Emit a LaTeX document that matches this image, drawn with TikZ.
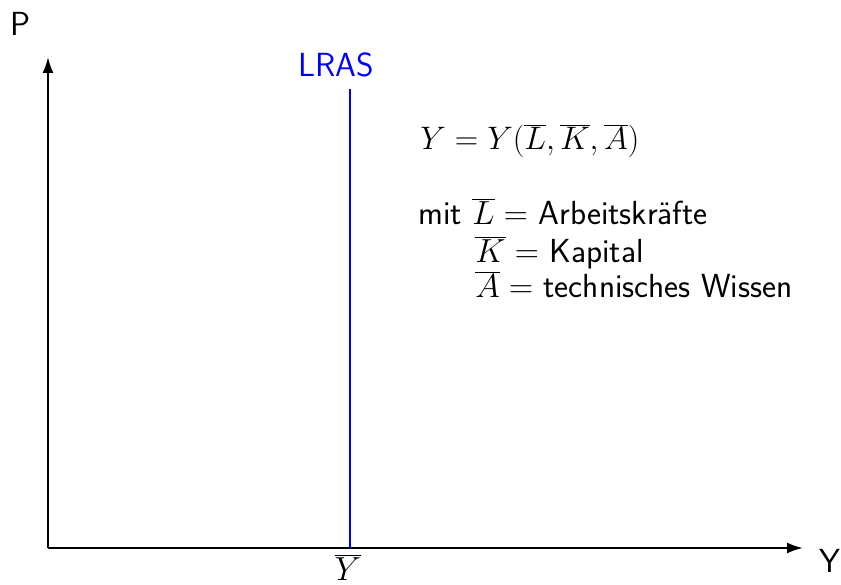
\RequirePackage{fix-cm}
\documentclass[tikz,border=0pt]{standalone}
\usepackage{tikz}
\usetikzlibrary{arrows.meta,positioning}
\definecolor{lrasblue}{HTML}{0000FF}

\begin{document}
\begin{tikzpicture}[
          axis/.style={-{Latex[length=3.2mm,width=2.2mm]},line width=1.2pt,draw=black},
          lras/.style={line width=1.2pt,draw=lrasblue},
          lbl/.style={font=\fontsize{19}{21.5}\selectfont\sffamily,inner sep=0pt}
        ]
        \useasboundingbox (0,0) rectangle (16.82,11.70);
        \coordinate (o) at (0.96,0.74);
        \coordinate (ptop) at (0.96,10.56);
        \coordinate (yend) at (16.06,0.74);
        \coordinate (lbot) at (7.00,0.74);
        \coordinate (ltop) at (7.00,9.92);
        \draw[axis] (o) -- (ptop);
        \draw[axis] (o) -- (yend);
        \draw[lras] (lbot) -- (ltop);
        \node[lbl] (p) at (0.42,11.22) {P};
        \node[lbl] (y) at (16.60,0.48) {Y};
        \node[lbl,text=lrasblue] (lraslbl) at (6.72,10.40) {LRAS};
        \node[lbl] (ybar) at (6.96,0.36) {$\overline{Y}$};
        \node[lbl,font=\fontsize{18.5}{21}\selectfont,anchor=base west] (eq) at (8.40,8.70) {$Y=Y(\overline{L},\overline{K},\overline{A})$};
        \node[lbl,anchor=base west] (mit) at (8.36,7.20) {mit $\overline{L}=$ Arbeitskr\"afte};
        \node[lbl,anchor=base west] (kap) at (9.50,6.44) {$\overline{K}=$ Kapital};
        \node[lbl,anchor=base west] (tech) at (9.50,5.74) {$\overline{A}=$ technisches Wissen};
      \end{tikzpicture}
\end{document}
